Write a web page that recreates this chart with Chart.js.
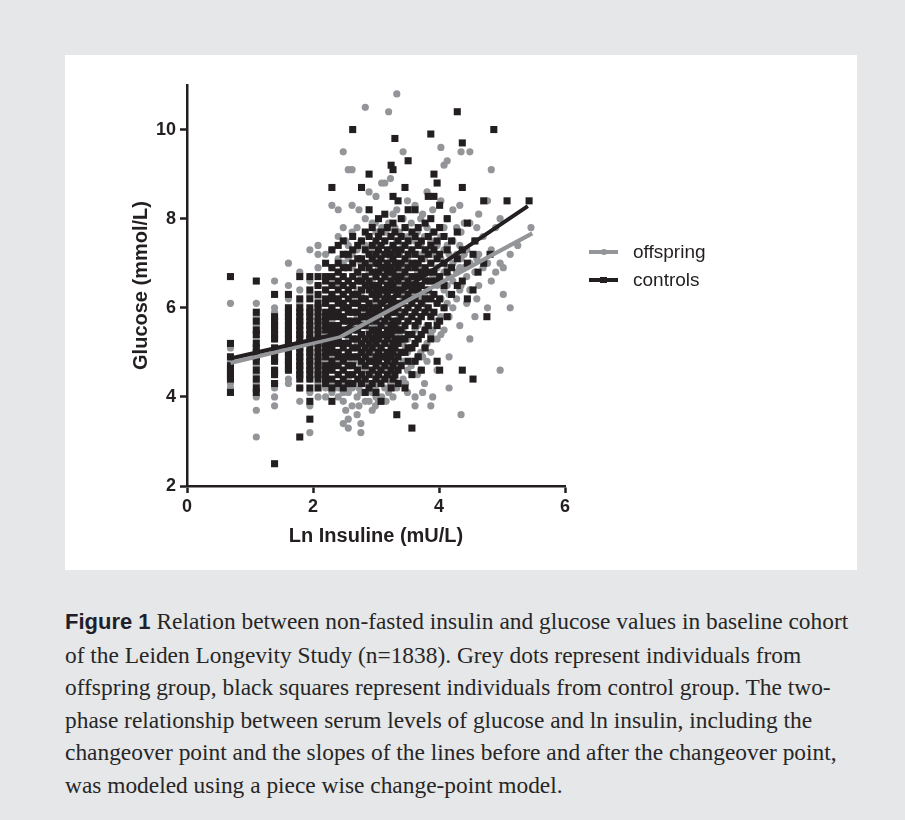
<!DOCTYPE html>
<html>
<head>
<meta charset="utf-8">
<script src="https://cdn.jsdelivr.net/npm/chart.js@4.4.0/dist/chart.umd.min.js"></script>
<style>
  html, body { margin: 0; padding: 0; }
  body { width: 905px; height: 820px; background: #e6e7e9; position: relative; overflow: hidden;
         font-family: "Liberation Sans", Arial, sans-serif; }
  #panel { position: absolute; left: 65px; top: 55px; width: 792px; height: 515px; background: #ffffff; }
  #chart { position: absolute; left: 0; top: 0; }
  .leg { position: absolute; left: 524px; height: 28px; width: 200px; }
  .leg .ln { position: absolute; left: 0; top: 12px; width: 29px; height: 3.5px; }
  .leg .mk { position: absolute; }
  .leg .tx { position: absolute; left: 44px; top: 0; line-height: 28px; font-size: 19px; color: #231f20; white-space: nowrap; }
  #caption { position: absolute; left: 65px; top: 605px; font-family: "Liberation Serif", "Times New Roman", serif;
             font-size: 23.4px; line-height: 32.5px; color: #262626; }
  #caption div { white-space: nowrap; }
  #caption b { font-family: "Liberation Sans", Arial, sans-serif; font-size: 22px; font-weight: bold; color: #1f1f2b; }
</style>
</head>
<body>
<div id="panel">
  <canvas id="chart" width="792" height="515"></canvas>
  <div id="legend"></div>
</div>
<div id="caption">
  <div><b>Figure 1</b> Relation between non-fasted insulin and glucose values in baseline cohort</div>
  <div>of the Leiden Longevity Study (n=1838). Grey dots represent individuals from</div>
  <div>offspring group, black squares represent individuals from control group. The two-</div>
  <div>phase relationship between serum levels of glucose and ln insulin, including the</div>
  <div>changeover point and the slopes of the lines before and after the changeover point,</div>
  <div>was modeled using a piece wise change-point model.</div>
</div>
<script>
// ---- Axis / text labels ----
const xTitle = 'Ln Insuline (mU/L)';
const yTitle = 'Glucose (mmol/L)';
const seriesNames = ['offspring', 'controls'];

// ---- Offspring (grey dots): [ln insulin, glucose values read at that ln insulin] ----
const offspringColumns = [
  [0.69, [6.1, 5.1, 4.8, 4.7, 4.6, 4.5, 4.4, 4.3, 4.2]],
  [1.10, [6.1, 5.8, 5.6, 5.3, 5.0, 4.9, 4.7, 4.5, 4.3, 4.0, 3.7, 3.1]],
  [1.39, [6.6, 6.0, 5.9, 5.6, 5.3, 5.0, 4.8, 4.6, 4.5, 4.3, 4.2, 4.0, 3.8]],
  [1.61, [7.0, 6.5, 6.2, 5.8, 5.5, 5.2, 5.0, 4.8, 4.6, 4.4, 4.3]],
  [1.79, [6.8, 6.4, 6.1, 5.7, 5.4, 5.1, 4.9, 4.7, 4.5, 4.2, 3.9]],
  [1.95, [7.3, 6.6, 6.3, 5.9, 5.6, 5.3, 5.0, 4.8, 4.6, 4.4, 4.1, 3.8, 3.2]],
  [2.08, [7.4, 7.2, 6.9, 6.5, 6.2, 6.0, 5.7, 5.5, 5.2, 4.9, 4.7, 4.5, 4.3, 4.0]],
  [2.20, [7.2, 6.7, 6.4, 6.1, 5.8, 5.4, 5.1, 4.8, 4.6, 4.4, 4.2, 4.0]],
  [2.30, [8.3, 7.3, 6.9, 6.6, 6.3, 6.0, 5.7, 5.4, 5.2, 4.9, 4.6, 4.3, 4.1]],
  [2.40, [8.2, 7.6, 7.1, 6.8, 6.5, 6.2, 5.9, 5.6, 5.3, 5.0, 4.8, 4.5, 4.2, 4.0]],
  [2.48, [9.5, 7.8, 7.0, 6.7, 6.3, 6.1, 5.8, 5.5, 5.2, 4.9, 4.6, 4.3, 4.1, 3.9, 3.4]],
  [2.52, [7.5, 6.9, 6.0, 5.4, 4.8, 4.2, 3.7]],
  [2.56, [9.1, 7.4, 7.1, 6.6, 6.4, 6.0, 5.7, 5.3, 5.0, 4.7, 4.4, 4.1, 3.5, 3.3]],
  [2.62, [9.1, 8.3, 7.7, 7.2, 6.9, 6.5, 6.2, 5.9, 5.6, 5.3, 5.1, 4.8, 4.5, 4.2, 3.8]],
  [2.70, [7.8, 7.3, 6.8, 6.4, 6.1, 5.8, 5.5, 5.2, 4.9, 4.6, 4.3, 4.0, 3.6]],
  [2.73, [8.2, 7.1, 6.2, 5.6, 4.8, 4.2, 3.8]],
  [2.76, [7.5, 7.0, 6.7, 6.3, 6.0, 5.7, 5.4, 5.0, 4.7, 4.4, 4.1, 3.4, 3.2]],
  [2.83, [10.5, 8.0, 7.4, 6.9, 6.6, 6.2, 5.9, 5.6, 5.3, 5.0, 4.6, 4.3, 3.9]],
  [2.89, [8.6, 7.6, 7.2, 6.8, 6.5, 6.1, 5.8, 5.5, 5.2, 4.9, 4.6, 4.2, 3.9]],
  [2.94, [7.9, 7.3, 7.0, 6.6, 6.3, 6.0, 5.6, 5.3, 5.0, 4.8, 4.5, 4.1, 3.7]],
  [2.99, [7.9, 7.0, 6.0, 5.0, 4.2, 3.8]],
  [3.00, [8.5, 7.7, 7.1, 6.7, 6.4, 6.1, 5.8, 5.4, 5.1, 4.8, 4.4, 4.0]],
  [3.04, [7.4, 6.9, 6.5, 6.2, 5.9, 5.6, 5.2, 4.9, 4.6, 4.3, 3.9]],
  [3.09, [8.8, 7.8, 7.2, 6.8, 6.4, 6.1, 5.7, 5.4, 5.1, 4.7, 4.4, 4.0]],
  [3.14, [8.8, 7.5, 7.0, 6.6, 6.3, 5.9, 5.6, 5.3, 5.0, 4.6, 4.2]],
  [3.16, [7.7, 6.8, 5.4, 4.4, 3.9]],
  [3.20, [10.4, 7.9, 7.3, 6.9, 6.5, 6.2, 5.8, 5.5, 5.2, 4.8, 4.5, 4.1]],
  [3.23, [8.9, 7.6, 7.1, 6.7, 6.4, 6.0, 5.7, 5.3, 5.0, 4.7, 4.3]],
  [3.27, [8.1, 7.4, 6.9, 6.5, 6.2, 5.9, 5.5, 5.2, 4.9, 4.5, 4.0]],
  [3.30, [7.8, 7.2, 6.8, 6.4, 6.0, 5.7, 5.4, 5.1, 4.8, 4.4]],
  [3.33, [10.8, 8.2, 7.5, 7.0, 6.6, 6.3, 5.9, 5.6, 5.3, 4.9, 4.6, 4.2]],
  [3.37, [7.7, 7.2, 6.8, 6.5, 6.1, 5.8, 5.4, 5.0, 4.7, 4.3]],
  [3.43, [9.5, 8.0, 7.4, 6.9, 6.6, 6.2, 5.9, 5.5, 5.2, 4.8, 4.4]],
  [3.47, [7.8, 7.0, 6.3, 5.1, 4.3]],
  [3.50, [8.4, 7.6, 7.1, 6.7, 6.4, 6.0, 5.7, 5.3, 5.0, 4.6, 4.1]],
  [3.56, [7.9, 7.3, 6.9, 6.5, 6.1, 5.8, 5.4, 5.1, 4.7]],
  [3.62, [8.3, 7.5, 7.0, 6.6, 6.3, 5.9, 5.5, 5.2, 4.8, 4.0, 3.8]],
  [3.66, [7.7, 7.2, 6.8, 6.4, 6.0, 5.6, 5.3, 4.9, 4.5]],
  [3.71, [8.0, 7.4, 6.9, 6.5, 6.2, 5.8, 5.4, 5.0, 4.6]],
  [3.74, [8.1, 7.2, 6.1, 4.9, 4.1]],
  [3.77, [7.6, 7.1, 6.7, 6.3, 5.9, 5.5, 5.1, 4.3]],
  [3.81, [8.6, 7.8, 7.3, 6.8, 6.4, 6.0, 5.6, 5.2, 4.8]],
  [3.87, [7.5, 7.0, 6.6, 6.2, 5.8, 5.4, 5.0, 3.8]],
  [3.90, [8.2, 7.7, 7.2, 6.7, 6.3, 5.9, 5.5, 4.0]],
  [3.97, [7.4, 6.9, 6.5, 6.1, 5.7, 5.3, 4.6]],
  [4.03, [9.6, 8.4, 7.6, 7.1, 6.6, 6.2, 5.8, 5.4]],
  [4.08, [9.2, 7.8, 7.3, 6.8, 6.4, 6.0, 5.5]],
  [4.13, [9.3, 8.0, 7.4, 6.9, 6.5, 6.1]],
  [4.16, [7.2, 6.7, 6.3, 5.8, 4.9, 4.2]],
  [4.22, [8.2, 7.5, 7.0, 6.6, 6.0]],
  [4.28, [7.8, 7.2, 6.8, 6.2]],
  [4.33, [8.3, 7.4, 6.9, 6.4, 5.6]],
  [4.35, [9.5, 7.7, 7.1, 6.5, 3.6]],
  [4.40, [7.9, 7.2, 6.9]],
  [4.44, [7.3, 6.7, 6.1]],
  [4.49, [9.5, 7.9, 7.0, 6.4, 5.3]],
  [4.57, [7.5, 6.8, 5.8]],
  [4.60, [7.8, 7.1, 6.2]],
  [4.63, [8.1, 7.2, 6.5]],
  [4.70, [7.6, 6.9]],
  [4.77, [8.4, 7.0, 6.0]],
  [4.83, [9.1, 7.3, 6.6]],
  [4.90, [7.8, 6.8]],
  [4.97, [8.0, 7.0, 4.6]],
  [5.02, [6.9, 6.3]],
  [5.13, [7.2, 6.0]],
  [5.25, [7.4]],
  [5.46, [7.8]]
];

// ---- Controls (black squares) ----
const controlColumns = [
  [0.69, [6.7, 5.2, 4.9, 4.7, 4.6, 4.5, 4.4, 4.1]],
  [1.10, [6.6, 5.9, 5.7, 5.5, 5.4, 5.2, 5.1, 5.0, 4.9, 4.8, 4.6, 4.4, 4.2, 4.1]],
  [1.39, [6.3, 5.8, 5.7, 5.6, 5.5, 5.4, 5.3, 5.1, 5.0, 4.9, 4.8, 4.6, 4.5, 4.3, 2.5]],
  [1.61, [6.3, 6.0, 5.9, 5.8, 5.7, 5.6, 5.5, 5.4, 5.3, 5.2, 5.1, 5.0, 4.9, 4.8, 4.7, 4.6]],
  [1.79, [6.7, 6.2, 6.0, 5.9, 5.8, 5.7, 5.6, 5.5, 5.4, 5.3, 5.2, 5.1, 5.0, 4.9, 4.8, 4.7, 4.6, 4.5, 4.4, 4.2, 3.1]],
  [1.95, [6.7, 6.4, 6.2, 6.0, 5.9, 5.8, 5.7, 5.6, 5.5, 5.4, 5.3, 5.2, 5.1, 5.0, 4.9, 4.8, 4.7, 4.6, 4.5, 4.4, 4.2, 3.9, 3.5]],
  [2.08, [6.7, 6.5, 6.3, 6.1, 6.0, 5.9, 5.8, 5.7, 5.6, 5.5, 5.4, 5.3, 5.2, 5.1, 5.0, 4.9, 4.8, 4.7, 4.6, 4.5, 4.4, 4.2]],
  [2.20, [7.0, 6.7, 6.6, 6.4, 6.2, 6.1, 5.9, 5.8, 5.7, 5.6, 5.5, 5.3, 5.2, 5.1, 5.0, 4.9, 4.7, 4.6, 4.5, 4.4, 4.3]],
  [2.30, [8.7, 7.3, 6.9, 6.7, 6.5, 6.3, 6.2, 6.0, 5.9, 5.8, 5.6, 5.5, 5.4, 5.2, 5.1, 5.0, 4.8, 4.7, 4.6, 4.4, 4.2, 3.9]],
  [2.40, [7.4, 7.0, 6.8, 6.6, 6.4, 6.2, 6.1, 5.9, 5.8, 5.6, 5.5, 5.3, 5.2, 5.0, 4.9, 4.7, 4.5, 4.3]],
  [2.48, [7.5, 7.2, 6.9, 6.7, 6.5, 6.3, 6.1, 6.0, 5.8, 5.7, 5.5, 5.4, 5.2, 5.1, 4.9, 4.8, 4.6, 4.4, 4.2]],
  [2.56, [7.2, 6.9, 6.6, 6.4, 6.2, 6.0, 5.9, 5.7, 5.5, 5.4, 5.2, 5.0, 4.9, 4.7, 4.5, 4.3]],
  [2.63, [10.0, 7.6, 7.3, 7.0, 6.7, 6.5, 6.3, 6.1, 5.9, 5.7, 5.5, 5.3, 5.1, 4.9, 4.7, 4.5, 4.3]],
  [2.71, [7.4, 7.1, 6.8, 6.6, 6.3, 6.1, 5.9, 5.7, 5.5, 5.3, 5.1, 4.9, 4.6, 4.4]],
  [2.77, [8.7, 7.5, 7.1, 6.9, 6.6, 6.4, 6.2, 6.0, 5.8, 5.6, 5.4, 5.2, 5.0, 4.8, 4.5, 4.3]],
  [2.83, [7.7, 7.3, 7.0, 6.7, 6.5, 6.2, 6.0, 5.8, 5.6, 5.3, 5.1, 4.9, 4.7, 4.4, 4.1]],
  [2.89, [9.0, 8.2, 7.6, 7.2, 6.9, 6.6, 6.4, 6.1, 5.9, 5.7, 5.4, 5.2, 5.0, 4.8, 4.5, 4.2]],
  [2.94, [7.8, 7.4, 7.1, 6.8, 6.5, 6.3, 6.0, 5.8, 5.5, 5.3, 5.1, 4.8, 4.6, 4.3]],
  [3.00, [7.5, 7.2, 7.0, 6.7, 6.4, 6.2, 5.9, 5.7, 5.4, 5.2, 4.9, 4.7, 4.4, 4.1]],
  [3.04, [8.0, 7.6, 7.3, 7.0, 6.8, 6.5, 6.3, 6.0, 5.8, 5.5, 5.3, 5.0, 4.8, 4.5]],
  [3.08, [7.7, 7.4, 7.1, 6.9, 6.6, 6.4, 6.1, 5.9, 5.6, 5.4, 5.1, 4.9, 4.6, 4.3, 3.9]],
  [3.14, [8.1, 7.5, 7.2, 6.9, 6.7, 6.4, 6.2, 5.9, 5.7, 5.4, 5.2, 4.9, 4.7, 4.4]],
  [3.18, [7.8, 7.3, 7.0, 6.8, 6.5, 6.3, 6.0, 5.8, 5.5, 5.3, 5.0, 4.8, 4.5]],
  [3.24, [9.2, 7.6, 7.2, 6.9, 6.6, 6.4, 6.1, 5.9, 5.6, 5.4, 5.1, 4.9, 4.6, 4.2]],
  [3.27, [9.1, 8.5, 7.9, 7.4, 7.1, 6.8, 6.5, 6.2, 6.0, 5.7, 5.5, 5.2, 5.0, 4.7, 4.4]],
  [3.30, [9.8, 7.7, 7.3, 7.0, 6.7, 6.4, 6.1, 5.9, 5.6, 5.3, 5.1, 4.8, 4.5]],
  [3.33, [3.6]],
  [3.35, [8.4, 7.5, 7.2, 6.9, 6.6, 6.3, 6.0, 5.7, 5.5, 5.2, 4.9, 4.6, 4.3]],
  [3.40, [8.0, 7.6, 7.3, 7.0, 6.7, 6.4, 6.1, 5.8, 5.5, 5.3, 5.0, 4.7]],
  [3.46, [8.7, 7.8, 7.4, 7.1, 6.8, 6.5, 6.2, 5.9, 5.6, 5.3, 5.0, 4.2]],
  [3.51, [9.3, 8.2, 7.5, 7.2, 6.9, 6.6, 6.3, 6.0, 5.7, 5.4, 5.1, 4.8]],
  [3.57, [7.7, 7.3, 7.0, 6.7, 6.4, 6.1, 5.8, 5.4, 5.1, 4.5, 3.3]],
  [3.62, [8.2, 7.6, 7.2, 6.9, 6.5, 6.2, 5.9, 5.6, 5.2, 4.8]],
  [3.67, [7.8, 7.4, 7.0, 6.7, 6.4, 6.0, 5.7, 5.3, 4.9]],
  [3.72, [7.5, 7.1, 6.8, 6.5, 6.1, 5.8, 5.4, 4.6]],
  [3.78, [7.9, 7.3, 6.9, 6.6, 6.2, 5.9, 5.5, 5.1]],
  [3.83, [8.5, 7.6, 7.2, 6.8, 6.4, 6.0, 5.6]],
  [3.87, [9.9, 8.0, 7.4, 7.0, 6.6, 6.2, 5.8, 5.3]],
  [3.92, [9.0, 8.5, 7.7, 7.3, 6.8, 6.3, 5.9]],
  [3.97, [8.8, 7.5, 7.1, 6.6, 6.1, 5.6, 4.8]],
  [4.01, [8.3, 7.8, 7.2, 6.7, 6.2, 5.7, 4.6]],
  [4.08, [7.6, 7.0, 6.5, 6.0]],
  [4.13, [8.0, 7.3, 6.8, 5.8]],
  [4.20, [7.5, 6.9, 6.3]],
  [4.29, [10.4, 7.7, 7.1, 6.5]],
  [4.37, [9.7, 8.7, 7.3, 6.6, 4.6]],
  [4.45, [7.9, 7.0, 6.2]],
  [4.54, [7.2, 6.4, 4.4]],
  [4.57, [7.5]],
  [4.62, [6.8]],
  [4.71, [8.4, 7.0]],
  [4.76, [5.8]],
  [4.81, [7.2]],
  [4.87, [10.0]],
  [5.08, [8.4]],
  [5.43, [8.4]]
];

// ---- Piece-wise change-point fits (start, changeover, end) ----
const offspringFitX = [0.69, 2.45, 5.48];
const offspringFitY = [4.76, 5.36, 7.67];
const controlFitX   = [0.69, 2.40, 5.41];
const controlFitY   = [4.86, 5.42, 8.28];

// ---- Axis ranges / ticks ----
const xRange = [0, 6], xStep = 2;
const yRange = [2, 11], yStep = 2;

// ---- Styles ----
const GREY = '#939598';
const BLACK = '#231f20';

function toPoints(columns) {
  const pts = [];
  columns.forEach(([x, ys]) => ys.forEach(y => pts.push({ x: x, y: y })));
  return pts;
}
function fitPoints(xs, ys) { return xs.map((x, i) => ({ x: x, y: ys[i] })); }

Chart.defaults.font.family = '"Liberation Sans", Arial, sans-serif';
Chart.defaults.color = BLACK;

const ctx = document.getElementById('chart').getContext('2d');
const chart = new Chart(ctx, {
  type: 'scatter',
  data: {
    datasets: [
      { label: seriesNames[1] + ' fit', data: fitPoints(controlFitX, controlFitY), showLine: true,
        borderColor: BLACK, borderWidth: 4, pointRadius: 0, order: 0 },
      { label: seriesNames[0] + ' fit', data: fitPoints(offspringFitX, offspringFitY), showLine: true,
        borderColor: GREY, borderWidth: 4, pointRadius: 0, order: 1 },
      { label: seriesNames[1], data: toPoints(controlColumns), pointStyle: 'rect', pointRadius: 5.0,
        backgroundColor: BLACK, borderWidth: 0, order: 2 },
      { label: seriesNames[0], data: toPoints(offspringColumns), pointStyle: 'circle', pointRadius: 3.6,
        backgroundColor: GREY, borderWidth: 0, order: 3 }
    ]
  },
  options: {
    responsive: false,
    animation: false,
    devicePixelRatio: 1,
    layout: { padding: { left: 56, top: 30, right: 292, bottom: 0 } },
    plugins: { legend: { display: false }, tooltip: { enabled: false } },
    scales: {
      x: {
        type: 'linear', min: xRange[0], max: xRange[1],
        ticks: { stepSize: xStep, includeBounds: false, font: { size: 18, weight: 'bold' }, color: BLACK, padding: 3 },
        grid: { drawOnChartArea: false, drawTicks: true, tickLength: 7, tickColor: BLACK, tickWidth: 2.5 },
        border: { display: true, color: BLACK, width: 2.5 },
        title: { display: true, text: xTitle, font: { size: 20, weight: 'bold' }, color: BLACK, padding: { top: 0, bottom: 22 } },
        afterFit: s => { s.height = 84; }
      },
      y: {
        type: 'linear', min: yRange[0], max: yRange[1],
        ticks: { stepSize: yStep, includeBounds: false, font: { size: 18, weight: 'bold' }, color: BLACK, padding: 4 },
        grid: { drawOnChartArea: false, drawTicks: true, tickLength: 7, tickColor: BLACK, tickWidth: 2.5 },
        border: { display: true, color: BLACK, width: 2.5 },
        title: { display: true, text: yTitle, font: { size: 20, weight: 'bold' }, color: BLACK, padding: { top: 8, bottom: 0 } },
        afterFit: s => { s.width = 66; }
      }
    }
  }
});

// ---- HTML legend for the two groups ----
const legend = document.getElementById('legend');
const legendItems = [
  { name: seriesNames[0], color: GREY, shape: 'circle', top: 183 },
  { name: seriesNames[1], color: BLACK, shape: 'square', top: 211 }
];
legendItems.forEach(it => {
  const d = document.createElement('div');
  d.className = 'leg';
  d.style.top = it.top + 'px';
  const ln = document.createElement('div'); ln.className = 'ln'; ln.style.background = it.color;
  const mk = document.createElement('div'); mk.className = 'mk'; mk.style.background = it.color;
  if (it.shape === 'circle') { mk.style.cssText += 'left:12px;top:11px;width:5.5px;height:5.5px;border-radius:50%;'; }
  else { mk.style.cssText += 'left:11px;top:10.5px;width:6.5px;height:6.5px;'; }
  const tx = document.createElement('div'); tx.className = 'tx'; tx.textContent = it.name;
  d.appendChild(ln); d.appendChild(mk); d.appendChild(tx);
  legend.appendChild(d);
});
</script>
</body>
</html>
